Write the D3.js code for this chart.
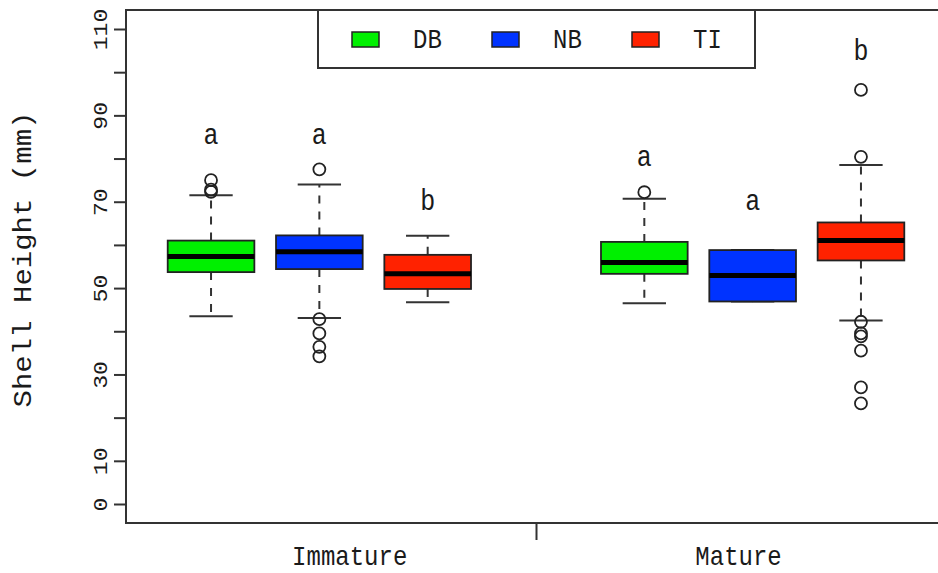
<!DOCTYPE html>
<html>
<head>
<meta charset="utf-8">
<script src="https://cdn.jsdelivr.net/npm/d3@7"></script>
<style>
  html, body { margin: 0; padding: 0; background: #fff; }
  svg { display: block; }
  text { font-family: "Liberation Mono", "Courier New", "DejaVu Sans Mono", monospace; fill: #1a1a1a; }
</style>
</head>
<body>
<svg id="chart" width="938" height="573"></svg>
<script>
// Shell height by maturity stage and site
const groups = ["Immature", "Mature"];
const sites = ["DB", "NB", "TI"];
const siteColors = ["#00f000", "#0033ff", "#ff2200"];

// one entry per box: Immature DB, NB, TI, then Mature DB, NB, TI
const boxSite = [0, 1, 2, 0, 1, 2];
const boxPositions = [1, 2, 3, 5, 6, 7];
const lowerWhisker = [43.5, 43.1, 46.7, 46.5, 46.9, 42.5];
const q1 = [53.7, 54.4, 49.8, 53.3, 46.9, 56.4];
const median = [57.3, 58.4, 53.3, 55.9, 52.9, 61.0];
const q3 = [61.0, 62.2, 57.7, 60.7, 58.8, 65.2];
const upperWhisker = [71.5, 74.0, 62.1, 70.7, 58.8, 78.5];
const outliers = [
  [72.3, 72.8, 75.0],
  [77.5, 42.8, 39.5, 36.4, 34.2],
  [],
  [72.2],
  [],
  [95.9, 80.4, 42.2, 39.5, 38.8, 35.5, 27.0, 23.3]
];

// significance letters above each box
const letters = ["a", "a", "b", "a", "a", "b"];
const letterY = [85.0, 85.0, 69.7, 79.9, 69.7, 104.4];

// axes
const yTicks = [0, 10, 20, 30, 40, 50, 60, 70, 80, 90, 100, 110];
const yTickLabels = [0, 10, 30, 50, 70, 90, 110];
const groupLabelAt = [2.28, 5.87];
const groupTickAt = [4];
const yTitle = "Shell Height (mm)";

const svg = d3.select("#chart");
const plot = { left: 126, top: 10, bottom: 523, right: 946 };

const x = d3.scaleLinear().domain([0.215, 7.785]).range([plot.left, plot.right]);
const y = d3.scaleLinear().domain([-4.4, 114.4]).range([plot.bottom, plot.top]);

const boxW = 0.8;     // box width in x units
const capW = 0.4;     // whisker cap width
const ink = "#333";
const stretch = 1.15; // glyphs are drawn a little taller than wide

// horizontal text, positioned by its baseline point
function label(sel, px, py) {
  return sel.attr("transform", (d, i) => `translate(${px(d, i)},${py(d, i)}) scale(1,${stretch})`);
}

// frame
svg.append("rect")
  .attr("x", plot.left).attr("y", plot.top)
  .attr("width", plot.right - plot.left).attr("height", plot.bottom - plot.top)
  .attr("fill", "none").attr("stroke", ink).attr("stroke-width", 2);

// y axis
const yAxis = d3.axisLeft(y)
  .tickValues(yTicks)
  .tickSize(12)
  .tickPadding(12)
  .tickFormat(d => yTickLabels.includes(d) ? d : "");
const gy = svg.append("g").attr("transform", `translate(${plot.left},0)`).call(yAxis);
gy.select(".domain").remove();
gy.selectAll(".tick line").attr("stroke", ink).attr("stroke-width", 2);
gy.selectAll(".tick text")
  .attr("font-size", 21)
  .attr("fill", "#1a1a1a")
  .attr("x", null).attr("dy", null)
  .attr("text-anchor", "middle")
  .attr("transform", "translate(-24,0) rotate(-90) scale(1.1,1)")
  .attr("dominant-baseline", "central");

// x axis: one separating tick, group names without ticks
const xAxis = d3.axisBottom(x).tickValues(groupTickAt).tickSize(17).tickFormat("");
const gx = svg.append("g").attr("transform", `translate(0,${plot.bottom})`).call(xAxis);
gx.select(".domain").remove();
gx.selectAll(".tick line").attr("stroke", ink).attr("stroke-width", 2);

label(svg.selectAll("text.group")
  .data(groups)
  .join("text")
  .attr("class", "group")
  .attr("text-anchor", "middle")
  .attr("font-size", 24)
  .text(d => d), (d, i) => x(groupLabelAt[i]), () => 565);

// y axis title
svg.append("text")
  .attr("transform", `translate(31,${(y(110) + y(0)) / 2 - 7}) rotate(-90)`)
  .attr("text-anchor", "middle")
  .attr("font-size", 26)
  .attr("textLength", 296)
  .attr("lengthAdjust", "spacingAndGlyphs")
  .text(yTitle);

// boxes
const boxes = svg.append("g").selectAll("g.box")
  .data(boxPositions.map((p, i) => ({ i, p })))
  .join("g").attr("class", "box");

// dashed whiskers
boxes.append("line")
  .attr("x1", d => x(d.p)).attr("x2", d => x(d.p))
  .attr("y1", d => y(q3[d.i])).attr("y2", d => y(upperWhisker[d.i]))
  .attr("stroke", ink).attr("stroke-width", 2).attr("stroke-dasharray", "8,8");
boxes.append("line")
  .attr("x1", d => x(d.p)).attr("x2", d => x(d.p))
  .attr("y1", d => y(q1[d.i])).attr("y2", d => y(lowerWhisker[d.i]))
  .attr("stroke", ink).attr("stroke-width", 2).attr("stroke-dasharray", "8,8");

// whisker caps
[upperWhisker, lowerWhisker].forEach(arr => {
  boxes.append("line")
    .attr("x1", d => x(d.p - capW / 2)).attr("x2", d => x(d.p + capW / 2))
    .attr("y1", d => y(arr[d.i])).attr("y2", d => y(arr[d.i]))
    .attr("stroke", ink).attr("stroke-width", 2);
});

// interquartile box
boxes.append("rect")
  .attr("x", d => x(d.p - boxW / 2))
  .attr("width", d => x(d.p + boxW / 2) - x(d.p - boxW / 2))
  .attr("y", d => y(q3[d.i]))
  .attr("height", d => y(q1[d.i]) - y(q3[d.i]))
  .attr("fill", d => siteColors[boxSite[d.i]])
  .attr("stroke", "#222").attr("stroke-width", 1.8);

// median
boxes.append("line")
  .attr("x1", d => x(d.p - boxW / 2)).attr("x2", d => x(d.p + boxW / 2))
  .attr("y1", d => y(median[d.i])).attr("y2", d => y(median[d.i]))
  .attr("stroke", "#000").attr("stroke-width", 5);

// outliers
boxes.selectAll("circle")
  .data(d => outliers[d.i].map(v => ({ p: d.p, v })))
  .join("circle")
  .attr("cx", d => x(d.p)).attr("cy", d => y(d.v))
  .attr("r", 6)
  .attr("fill", "none").attr("stroke", "#222").attr("stroke-width", 1.8);

// letters
label(boxes.append("text")
  .attr("text-anchor", "middle")
  .attr("font-size", 25)
  .text(d => letters[d.i]), d => x(d.p), d => y(letterY[d.i]) + 7);

// legend
const legend = svg.append("g");
legend.append("rect")
  .attr("x", 318).attr("y", plot.top)
  .attr("width", 437).attr("height", 58)
  .attr("fill", "#fff").attr("stroke", ink).attr("stroke-width", 2);
const items = legend.selectAll("g.item")
  .data(sites)
  .join("g").attr("class", "item")
  .attr("transform", (d, i) => `translate(${352 + i * 140},0)`);
items.append("rect")
  .attr("x", 0).attr("y", 32).attr("width", 27).attr("height", 15)
  .attr("fill", (d, i) => siteColors[i])
  .attr("stroke", "#222").attr("stroke-width", 1.5);
label(items.append("text")
  .attr("font-size", 24)
  .text(d => d), () => 61, () => 48);
</script>
</body>
</html>
